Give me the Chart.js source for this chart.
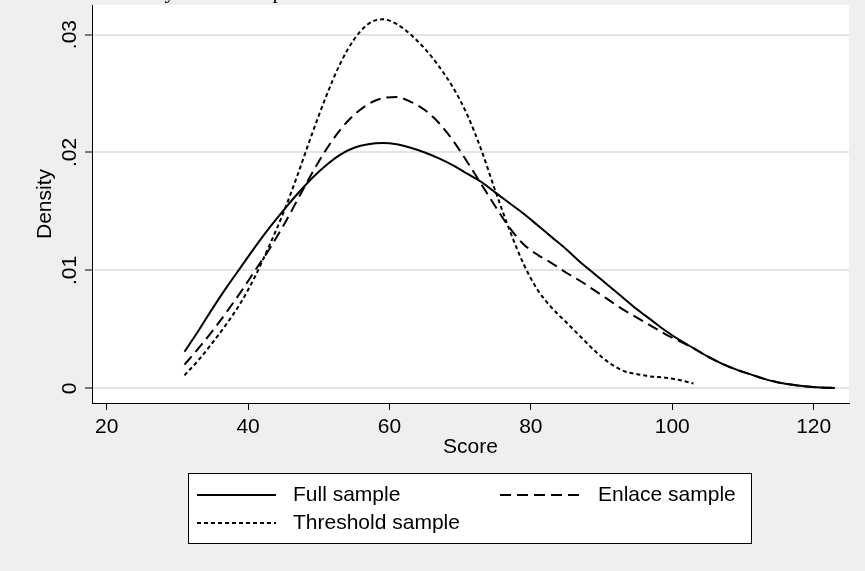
<!DOCTYPE html>
<html><head><meta charset="utf-8">
<script src="https://cdn.jsdelivr.net/npm/chart.js@4.4.0/dist/chart.umd.min.js"></script>
<style>html,body{margin:0;padding:0;background:#efefef;overflow:hidden}</style>
</head><body>
<canvas id="c" width="865" height="571"></canvas>
<script>
// ---- data ----
const seriesNames = ['Full sample', 'Enlace sample', 'Threshold sample'];

const scoreFull = [31,33,35,37,39,41,43,45,47,49,51,53,55,57,59,61,63,65,67,69,71,73,75,77,79,81,83,85,87,89,91,93,95,97,99,101,103,105,107,109,111,113,115,117,119,121,123];
const densityFull = [0.0031,0.0049,0.0068,0.0086,0.0103,0.0120,0.0136,0.0151,0.0165,0.0178,0.0189,0.0198,0.0204,0.0207,0.0208,0.0207,0.0204,0.0200,0.0195,0.0189,0.0182,0.0175,0.0166,0.0157,0.0148,0.0138,0.0128,0.0118,0.0107,0.0097,0.0087,0.0077,0.0067,0.0058,0.0049,0.0041,0.0034,0.0027,0.0021,0.0016,0.0012,0.0008,0.0005,0.0003,0.00015,0.00007,0.00003];

const scoreEnlace = [31,33,35,37,39,41,43,45,47,49,51,53,55,57,59,61,63,65,67,69,71,73,75,77,79,81,83,85,87,89,91,93,95,97,99,101,103,105,107,109,111,113,115,117,119,121,123];
const densityEnlace = [0.0020,0.0034,0.0049,0.0065,0.0082,0.0100,0.0118,0.0138,0.0160,0.0182,0.0202,0.0219,0.0232,0.0241,0.0246,0.0247,0.0243,0.0236,0.0225,0.0210,0.0192,0.0173,0.0154,0.0136,0.0122,0.0113,0.0106,0.0098,0.0091,0.0083,0.0075,0.0067,0.0060,0.0053,0.0046,0.0040,0.0034,0.0027,0.0021,0.0016,0.0012,0.0008,0.0005,0.0003,0.00015,0.00007,0.00003];

const scoreThreshold = [31,33,35,37,39,41,43,45,47,49,51,53,55,57,59,61,63,65,67,69,71,73,75,77,79,81,83,85,87,89,91,93,95,97,99,101,103];
const densityThreshold = [0.0011,0.0024,0.0039,0.0055,0.0073,0.0095,0.0121,0.0149,0.0181,0.0215,0.0247,0.0275,0.0296,0.0309,0.0313,0.0309,0.0300,0.0288,0.0273,0.0255,0.0232,0.0202,0.0167,0.0134,0.0105,0.0083,0.0068,0.0056,0.0044,0.0032,0.0022,0.0015,0.0012,0.0010,0.0009,0.0007,0.0004];

const xTickValues = [20, 40, 60, 80, 100, 120];
const yTickValues = [0, 0.01, 0.02, 0.03];
const yTickLabels = ['0', '.01', '.02', '.03'];
const xAxisTitle = 'Score';
const yAxisTitle = 'Density';

// ---- styling ----
const FONT = "'Liberation Sans', Arial, Helvetica, sans-serif";
const FS = 21;
Chart.defaults.font.family = FONT;
Chart.defaults.font.size = FS;
Chart.defaults.color = '#000';

const dashes = [[], [11, 6], [4, 3]];
function pts(xs, ys) { return xs.map((x, i) => ({x: x, y: ys[i]})); }

const framePlugin = {
  id: 'frame',
  beforeDraw(chart) {
    const {ctx, chartArea: a} = chart;
    ctx.save();
    ctx.fillStyle = '#efefef';
    ctx.fillRect(0, 0, chart.width, chart.height);
    ctx.fillStyle = '#ffffff';
    ctx.fillRect(a.left, a.top, a.right - a.left, a.bottom - a.top);
    ctx.restore();
  },
  afterDraw(chart) {
    const {ctx} = chart;
    const ys = chart.scales.y;
    ctx.save();
    // clipped title fragments at the very top edge
    ctx.fillStyle = '#000';
    ctx.font = "22px 'Liberation Serif', 'Times New Roman', serif";
    ctx.textAlign = 'center';
    ctx.textBaseline = 'alphabetic';
    ctx.fillText('y', 170, -2);
    ctx.fillText('p', 278, -2);
    // rotated y tick labels
    ctx.font = FS + 'px ' + FONT;
    yTickValues.forEach((v, i) => {
      const py = ys.getPixelForValue(v);
      ctx.save();
      ctx.translate(76, py);
      ctx.rotate(-Math.PI / 2);
      ctx.fillText(yTickLabels[i], 0, 0);
      ctx.restore();
    });
    // legend box
    const L = 188, T = 473, W = 564, H = 71;
    ctx.fillStyle = '#fff';
    ctx.fillRect(L, T, W, H);
    ctx.strokeStyle = '#000';
    ctx.lineWidth = 1;
    ctx.strokeRect(L + 0.5, T + 0.5, W - 1, H - 1);
    const slots = [
      {x0: 197, x1: 276, y: 495, tx: 293},
      {x0: 500, x1: 585, y: 495, tx: 598},
      {x0: 197, x1: 276, y: 523, tx: 293}
    ];
    chart.data.datasets.forEach((ds, i) => {
      const s = slots[i];
      ctx.save();
      ctx.strokeStyle = '#000';
      ctx.lineWidth = 2;
      ctx.setLineDash(ds.borderDash || []);
      ctx.beginPath();
      ctx.moveTo(s.x0, s.y);
      ctx.lineTo(s.x1, s.y);
      ctx.stroke();
      ctx.restore();
      ctx.fillStyle = '#000';
      ctx.textAlign = 'left';
      ctx.textBaseline = 'middle';
      ctx.fillText(ds.label, s.tx, s.y);
    });
    ctx.restore();
  }
};

new Chart(document.getElementById('c'), {
  type: 'line',
  data: {
    datasets: [
      {label: seriesNames[0], data: pts(scoreFull, densityFull), borderDash: dashes[0]},
      {label: seriesNames[1], data: pts(scoreEnlace, densityEnlace), borderDash: dashes[1]},
      {label: seriesNames[2], data: pts(scoreThreshold, densityThreshold), borderDash: dashes[2]}
    ].map(d => Object.assign(d, {borderColor: '#000', borderWidth: 2, pointRadius: 0, tension: 0.4, cubicInterpolationMode: 'monotone', fill: false}))
  },
  options: {
    responsive: false,
    animation: false,
    events: [],
    layout: {padding: {left: 0, top: 5, right: 16, bottom: 108}},
    plugins: {legend: {display: false}, tooltip: {enabled: false}},
    scales: {
      x: {
        type: 'linear', min: 17.92, max: 125.0,
        afterBuildTicks(s) { s.ticks = xTickValues.map(v => ({value: v})); },
        afterFit(s) { s.height = 60; },
        grid: {drawOnChartArea: false, drawTicks: true, tickLength: 7, tickColor: '#000', tickWidth: 1},
        border: {display: true, color: '#000', width: 1},
        ticks: {padding: 5, color: '#000', maxRotation: 0, autoSkip: false, font: {size: FS}},
        title: {display: true, text: xAxisTitle, color: '#000', font: {size: FS}, padding: {top: 0, bottom: 3}}
      },
      y: {
        type: 'linear', min: -0.001247, max: 0.03251,
        afterBuildTicks(s) { s.ticks = yTickValues.map(v => ({value: v})); },
        afterFit(s) { s.width = 92; },
        grid: {drawOnChartArea: true, color: '#e4e4e4', lineWidth: 2, drawTicks: true, tickLength: 7, tickColor: '#000', tickWidth: 1},
        border: {display: true, color: '#000', width: 1},
        ticks: {display: false},
        title: {display: true, text: yAxisTitle, color: '#000', font: {size: FS}, padding: {top: 33, bottom: 0}}
      }
    }
  },
  plugins: [framePlugin]
});
</script>
</body></html>
